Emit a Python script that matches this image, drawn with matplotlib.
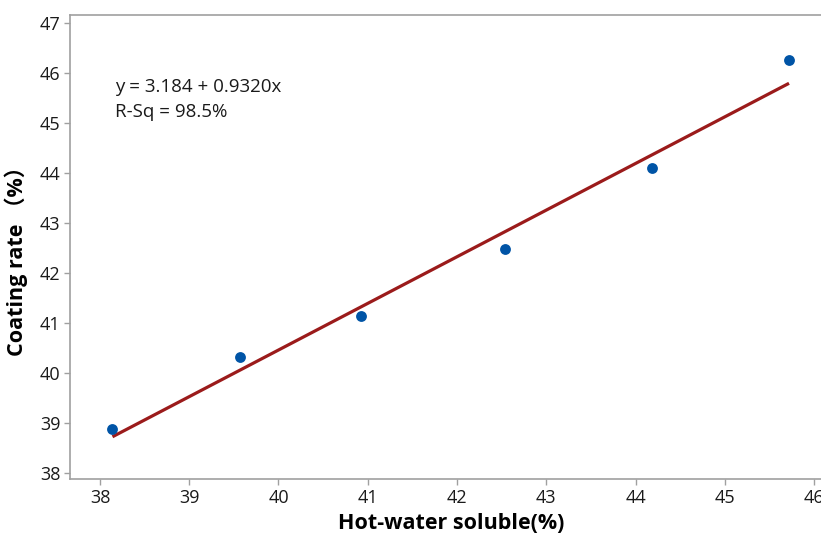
import numpy as np
import matplotlib
matplotlib.use("Agg")
import matplotlib.pyplot as plt

plt.rcParams['font.family'] = ['Open Sans', 'Noto Sans CJK SC', 'DejaVu Sans']

# ---- data -----------------------------------------------------
hot_water = [38.14, 39.57, 40.93, 42.54, 44.19, 45.72]
coating = [38.89, 40.32, 41.15, 42.48, 44.11, 46.26]

intercept = 3.184
slope = 0.9320
eq_text = "y = 3.184 + 0.9320x"
rsq_text = "R-Sq = 98.5%"

x_ticks = [38, 39, 40, 41, 42, 43, 44, 45, 46]
y_ticks = [38, 39, 40, 41, 42, 43, 44, 45, 46, 47]

grey = "#a0a0a0"

fig = plt.figure(figsize=(8.21, 5.37), dpi=100)
# right side of the frame runs past the picture edge, as in the reference
ax = fig.add_axes([70 / 821, 58 / 537, 774 / 821, 464 / 537])

fit_x = np.array([min(hot_water), max(hot_water)])
fit_y = intercept + slope * fit_x
ax.plot(fit_x, fit_y, color="#9b1b1b", lw=2.3, solid_capstyle="butt", zorder=2)
ax.plot(hot_water, coating, "o", color="#0054a6", ms=7.8, mec="none", zorder=3)

ax.set_xlim(37.664, 46.336)
ax.set_ylim(37.886, 47.16)
ax.set_xticks(x_ticks)
ax.set_yticks(y_ticks)

for s in ax.spines.values():
    s.set_color(grey)
    s.set_linewidth(1.2)
ax.tick_params(direction="out", length=4, width=1, color=grey,
               labelsize=13, labelcolor="#1a1a1a", pad=3)

ax.text(38.168, 45.613, eq_text, fontsize=13.5, va="baseline", ha="left", color="#1a1a1a")
ax.text(38.168, 45.126, rsq_text, fontsize=13.5, va="baseline", ha="left", color="#1a1a1a")

ax.set_xlabel("Hot-water soluble(%)", fontsize=15.5, fontweight="bold")
ax.set_ylabel("Coating rate （%）", fontsize=15.5, fontweight="bold")
ax.xaxis.set_label_coords(0.492, -0.073)
ax.yaxis.set_label_coords(-0.054, 0.48)

fig.savefig("out.png", dpi=100)
